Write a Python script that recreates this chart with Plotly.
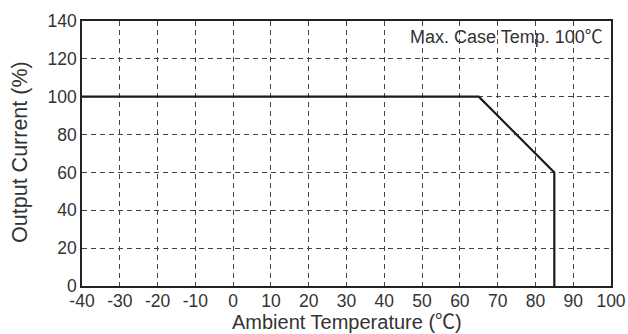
import plotly.graph_objects as go

temp = [-40, 65, 85, 85]
current = [100, 100, 60, 0]
x_ticks = list(range(-40, 101, 10))
y_ticks = list(range(0, 141, 20))
note = "Max. Case Temp. 100℃"
x_title = "Ambient Temperature (℃)"
y_title = "Output Current (%)"

FONT = "Liberation Sans, Arial, Noto Sans CJK JP, sans-serif"

fig = go.Figure()
fig.add_trace(go.Scatter(x=temp, y=current, mode="lines",
                         line=dict(color="#1a1a1a", width=2.2), showlegend=False))

fig.update_layout(
    width=628, height=334,
    margin=dict(l=82, r=17, t=21, b=48),
    plot_bgcolor="white", paper_bgcolor="white",
    font=dict(family=FONT, size=18, color="#333333"),
    xaxis=dict(range=[-40, 100], tickvals=x_ticks, ticktext=[str(v) for v in x_ticks],
               showgrid=True, gridcolor="#444444", gridwidth=1, griddash="5px,4px",
               showline=True, linecolor="#222222", linewidth=1.5, mirror=True,
               zeroline=False, ticks="", ticklen=0, automargin=False,
               ticklabelstandoff=-2,
               tickfont=dict(size=17.5)),
    yaxis=dict(range=[0, 140], tickvals=y_ticks, ticktext=[str(v) for v in y_ticks],
               showgrid=True, gridcolor="#444444", gridwidth=1, griddash="5px,4px",
               showline=True, linecolor="#222222", linewidth=1.5, mirror=True,
               zeroline=False, ticks="", ticklen=0, automargin=False,
               tickfont=dict(size=17.5)),
)
fig.add_annotation(x=1, y=1, xref="paper", yref="paper", xanchor="right", yanchor="top",
                   xshift=-6, yshift=-4, text=note, showarrow=False,
                   font=dict(size=18, color="#333333"))
fig.add_annotation(x=0.5, y=0, xref="paper", yref="paper", xanchor="center", yanchor="bottom",
                   yshift=-48, borderpad=0, text=x_title, showarrow=False,
                   font=dict(size=20, color="#333333"))
fig.add_annotation(x=0, y=0.506, xref="paper", yref="paper", xanchor="center", yanchor="middle",
                   xshift=-62, text=y_title, textangle=-90, showarrow=False,
                   font=dict(size=21.5, color="#333333"))
fig.write_html("out.html")
